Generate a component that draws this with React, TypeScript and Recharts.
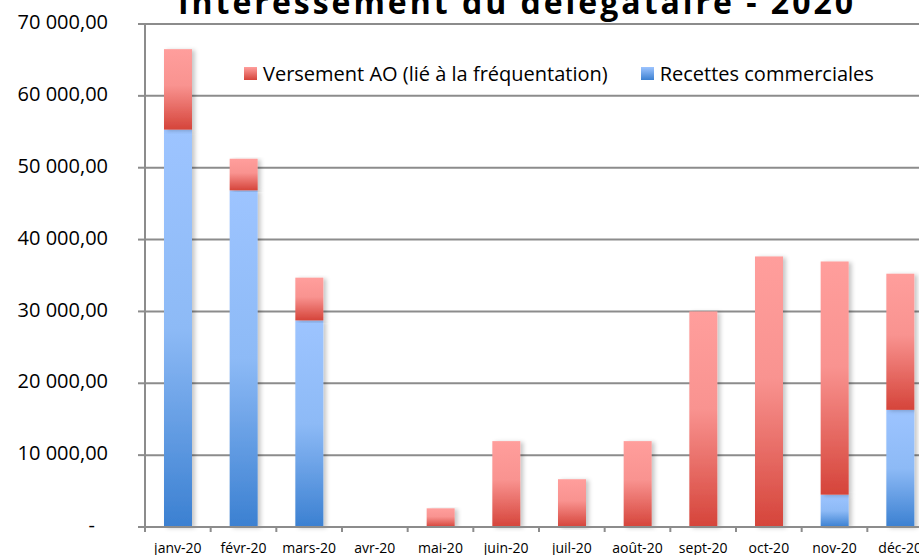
import {
  BarChart,
  Bar,
  XAxis,
  YAxis,
  CartesianGrid,
} from "recharts";

const months = [
  "janv-20",
  "févr-20",
  "mars-20",
  "avr-20",
  "mai-20",
  "juin-20",
  "juil-20",
  "août-20",
  "sept-20",
  "oct-20",
  "nov-20",
  "déc-20",
];

// bottom segment
const recettes = [55300, 46850, 28750, 0, 0, 0, 0, 0, 0, 0, 4500, 16300];
// top segment
const versement = [11200, 4400, 5950, 0, 2600, 11950, 6650, 11950, 30000, 37650, 32450, 18950];

const yTicks = [0, 10000, 20000, 30000, 40000, 50000, 60000, 70000];

const seriesNames = ["Versement AO (lié à la fréquentation)", "Recettes commerciales"];

const chartData = months.map((m, i) => ({
  month: m,
  recettes: recettes[i],
  versement: versement[i],
}));

const FONT = "'Open Sans', 'Noto Sans', sans-serif";
const GRID = "#8c8c8c";
const X_TICK_SIZE = 5;
const X_TICK_MARGIN = 11;

const fmt = (v: number) => {
  if (v === 0) return "-";
  const s = Math.round(v).toString().replace(/\B(?=(\d{3})+(?!\d))/g, " ");
  return s + ",00";
};

function YTick(props: any) {
  const { x, y, payload } = props;
  const zero = payload.value === 0;
  return (
    <text
      x={zero ? x - 13 : x}
      y={y - 2}
      dy="0.36em"
      textAnchor="end"
      fontSize={20}
      fontFamily={FONT}
      fill="#000"
    >
      {fmt(payload.value)}
    </text>
  );
}

// category label plus an Excel-style tick mark on the left edge of the band
function XTick(props: any) {
  const { x, y, payload, index, visibleTicksCount } = props;
  const half = payload.offset || 0;
  const axisY = y - X_TICK_SIZE - X_TICK_MARGIN;
  const last = index === visibleTicksCount - 1;
  return (
    <g>
      <line
        x1={x - half}
        x2={x - half}
        y1={axisY}
        y2={axisY + X_TICK_SIZE}
        stroke={GRID}
        strokeWidth={2}
      />
      {last && (
        <line
          x1={x + half}
          x2={x + half}
          y1={axisY}
          y2={axisY + X_TICK_SIZE}
          stroke={GRID}
          strokeWidth={2}
        />
      )}
      <text
        x={x}
        y={y}
        dy="0.71em"
        textAnchor="middle"
        fontSize={14}
        fontFamily={FONT}
        fill="#000"
      >
        {payload.value}
      </text>
    </g>
  );
}

function ShadowBar(props: any) {
  const { x, y, width, height, fill } = props;
  if (!height || height <= 0) return null;
  return (
    <rect
      x={x}
      y={y}
      width={width}
      height={height}
      fill={fill}
      filter="url(#barShadow)"
    />
  );
}

export default function App() {
  return (
    <div
      style={{
        position: "absolute",
        left: 0,
        top: 0,
        width: 919,
        height: 555,
        overflow: "hidden",
        background: "#fff",
        fontFamily: FONT,
      }}
    >
      <BarChart
        width={940}
        height={555}
        data={chartData}
        margin={{ top: 24, right: 7, bottom: 0, left: 0 }}
        barSize={28}
      >
        <defs>
          <linearGradient id="gradRed" x1="0" y1="0" x2="0" y2="1">
            <stop offset="0%" stopColor="#ff9e9c" />
            <stop offset="45%" stopColor="#f99390" />
            <stop offset="100%" stopColor="#d5443a" />
          </linearGradient>
          <linearGradient id="gradBlue" x1="0" y1="0" x2="0" y2="1">
            <stop offset="0%" stopColor="#9dc4ff" />
            <stop offset="50%" stopColor="#8dbaf6" />
            <stop offset="100%" stopColor="#3b80d1" />
          </linearGradient>
          <filter id="barShadow" x="-20%" y="-5%" width="150%" height="110%">
            <feDropShadow dx="3" dy="1" stdDeviation="2" floodColor="#000" floodOpacity="0.22" />
          </filter>
        </defs>
        <CartesianGrid vertical={false} stroke={GRID} strokeWidth={2} />
        <XAxis
          dataKey="month"
          height={28}
          axisLine={{ stroke: GRID, strokeWidth: 2 }}
          tickLine={false}
          tickSize={X_TICK_SIZE}
          tickMargin={X_TICK_MARGIN}
          interval={0}
          tick={<XTick />}
        />
        <YAxis
          width={145}
          domain={[0, 70000]}
          ticks={yTicks}
          interval={0}
          axisLine={{ stroke: GRID, strokeWidth: 2 }}
          tickLine={{ stroke: GRID, strokeWidth: 2 }}
          tickSize={7}
          tickMargin={30}
          tick={<YTick />}
        />
        <Bar
          dataKey="recettes"
          name={seriesNames[1]}
          stackId="a"
          fill="url(#gradBlue)"
          shape={<ShadowBar />}
          isAnimationActive={false}
        />
        <Bar
          dataKey="versement"
          name={seriesNames[0]}
          stackId="a"
          fill="url(#gradRed)"
          shape={<ShadowBar />}
          isAnimationActive={false}
        />
      </BarChart>

      <svg
        width={919}
        height={30}
        style={{ position: "absolute", left: 0, top: 0 }}
      >
        <text
          x={178}
          y={13.5}
          fontSize={32}
          fontWeight="bold"
          fontFamily={FONT}
          textLength={675}
          fill="#000"
        >
          Intéressement du délégataire - 2020
        </text>
      </svg>

      <div
        style={{
          position: "absolute",
          left: 244,
          top: 60,
          display: "flex",
          alignItems: "center",
          fontSize: 20,
          color: "#000",
          whiteSpace: "nowrap",
        }}
      >
        <span
          style={{
            width: 13,
            height: 13,
            background: "linear-gradient(#ff9e9c, #d5443a)",
            marginRight: 6,
          }}
        />
        <span>{seriesNames[0]}</span>
        <span
          style={{
            width: 13,
            height: 13,
            background: "linear-gradient(#9dc4ff, #3b80d1)",
            marginLeft: 33,
            marginRight: 6,
          }}
        />
        <span>{seriesNames[1]}</span>
      </div>
    </div>
  );
}
